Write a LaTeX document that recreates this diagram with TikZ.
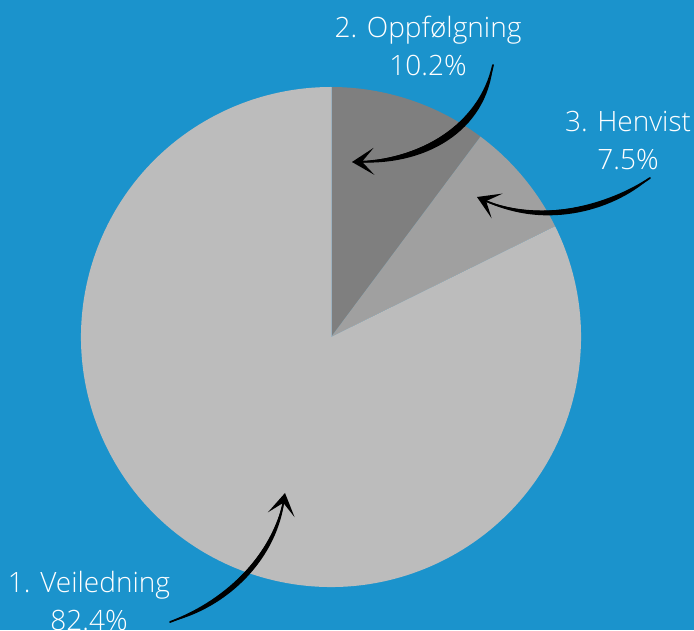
\documentclass[tikz,border=0pt]{standalone}
\usepackage{fontspec}
\setmainfont{Open Sans Light}
\usetikzlibrary{arrows.meta}
\definecolor{bgblue}{HTML}{1B93CC}
\definecolor{slicedark}{HTML}{7F7F7F}
\definecolor{slicemid}{HTML}{A0A0A0}
\definecolor{slicelight}{HTML}{BCBCBC}
\definecolor{sliceedge}{HTML}{9DB2C0}
\tikzset{
  lbl/.style={text=white, align=center, font=\fontsize{28}{38}\selectfont, inner sep=0pt},
  arrowline/.style={line width=1.8pt, black, line cap=round, -{Stealth[length=22pt, width=27pt, inset=12pt]}},
  crescent/.style={fill=black}
}
\begin{document}
\begin{tikzpicture}[x=1pt,y=1pt]
\fill[bgblue] (0,0) rectangle (694,630);
\useasboundingbox (0,0) rectangle (694,630);
\coordinate (c) at (331,293);
% slices
\fill[slicedark] (c) -- ++(90:250) arc (90:53.28:250) -- cycle;
\fill[slicemid] (c) -- ++(53.28:250) arc (53.28:26.28:250) -- cycle;
\fill[slicelight] (c) -- ++(26.28:250) arc (26.28:-270:250) -- cycle;
\draw[sliceedge, line width=1pt] (c) -- ++(90:250);
% labels
\node[lbl] (l2) at (428,584) {2. Oppfølgning\\10.2\%};
\node[lbl] (l3) at (628,489) {3. Henvist\\7.5\%};
\node[lbl] (l1) at (89,29) {1. Veiledning\\82.4\%};
% arrow anchors
\coordinate (a2s) at (493,565); \coordinate (a2e) at (352,468);
\coordinate (a3s) at (650,452); \coordinate (a3e) at (477,433);
\coordinate (a1s) at (170,8);   \coordinate (a1e) at (285,137);
% arrow 1 (Oppfolgning)
\fill[crescent] (a2s) .. controls (480,505) and (420,470) .. (a2e)
   .. controls (425,462) and (487,499) .. (a2s);
\draw[arrowline] (a2s) .. controls (480,505) and (420,470) .. (a2e);
% arrow 2 (Henvist)
\fill[crescent] (a3s) .. controls (610,425) and (540,405) .. (a3e)
   .. controls (540,398) and (612,418) .. (a3s);
\draw[arrowline] (a3s) .. controls (610,425) and (540,405) .. (a3e);
% arrow 3 (Veiledning)
\fill[crescent] (a1s) .. controls (230,30) and (275,80) .. (a1e)
   .. controls (282,80) and (235,24) .. (a1s);
\draw[arrowline] (a1s) .. controls (230,30) and (275,80) .. (a1e);
\end{tikzpicture}
\end{document}
